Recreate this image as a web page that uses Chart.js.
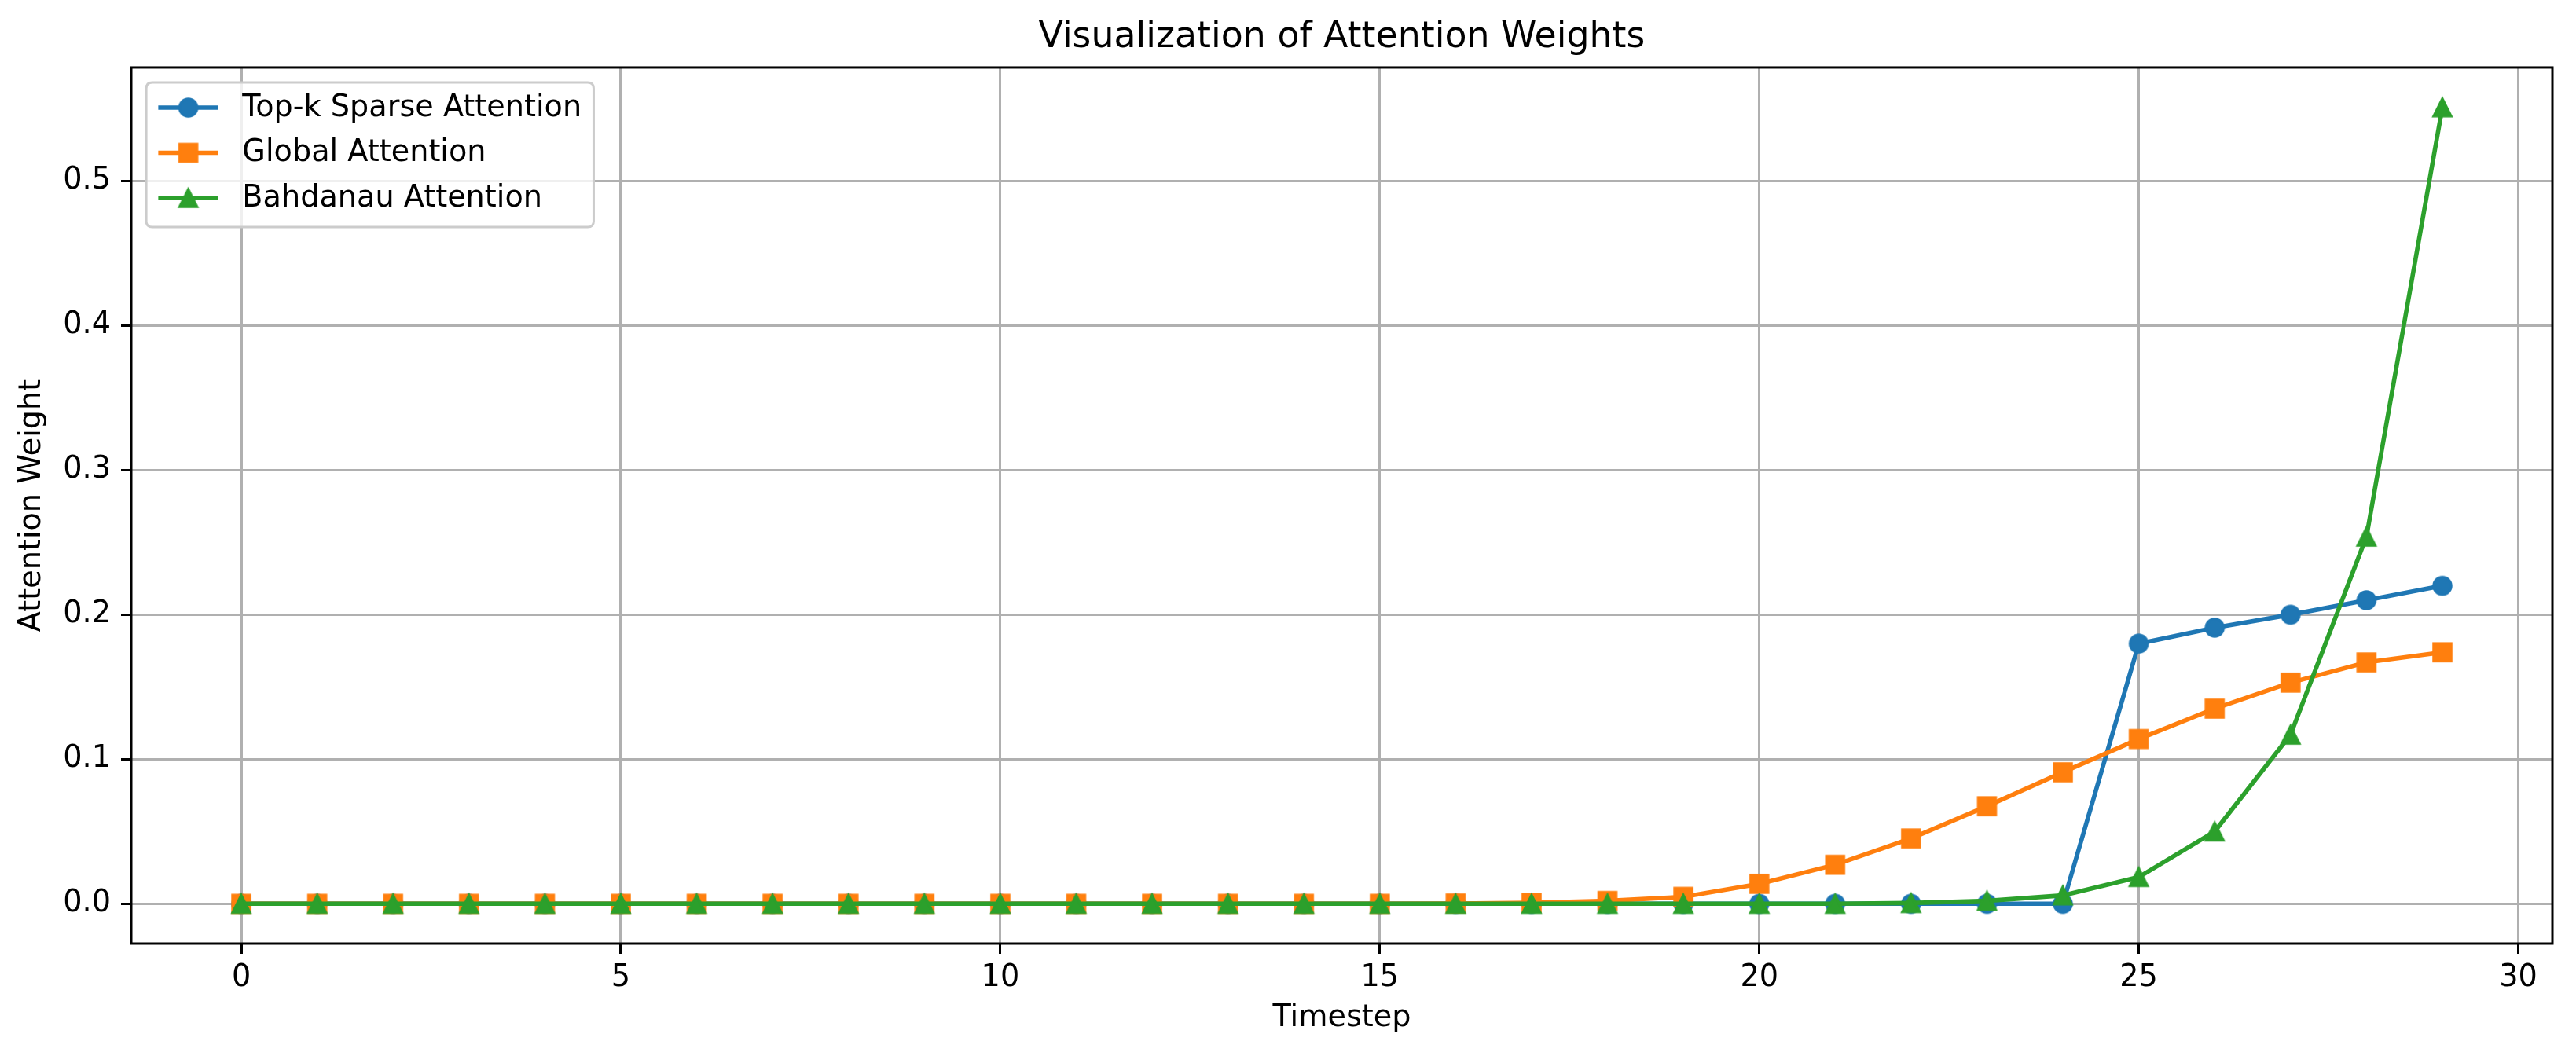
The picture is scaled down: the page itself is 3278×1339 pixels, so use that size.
<!DOCTYPE html>
<html>
<head>
<meta charset="utf-8">
<script src="https://cdn.jsdelivr.net/npm/chart.js@4.4.0/dist/chart.umd.min.js"></script>
<style>
html,body{margin:0;padding:0;background:#fff;}
#wrap{width:3278px;height:1339px;}
</style>
</head>
<body>
<div id="wrap"><canvas id="c" width="3278" height="1339"></canvas></div>
<script>
// ---- data ----
const timesteps = [0,1,2,3,4,5,6,7,8,9,10,11,12,13,14,15,16,17,18,19,20,21,22,23,24,25,26,27,28,29];
const topkSparse = [0,0,0,0,0,0,0,0,0,0,0,0,0,0,0,0,0,0,0,0,0,0,0,0,0,0.180,0.191,0.200,0.210,0.220];
const globalAttn = [0,0,0,0,0,0,0,0,0,0,0,0,0,0,0,0,0.0002,0.0007,0.002,0.0048,0.0138,0.027,0.0452,0.0675,0.091,0.114,0.135,0.153,0.167,0.174];
const bahdanau   = [0,0,0,0,0,0,0,0,0,0,0,0,0,0,0,0,0,0,0,0,0,0,0.0005,0.002,0.0058,0.0185,0.050,0.117,0.254,0.551];
const seriesNames = ['Top-k Sparse Attention','Global Attention','Bahdanau Attention'];
const xTickValues = [0,5,10,15,20,25,30];
const xTickLabels = ['0','5','10','15','20','25','30'];
const yTickValues = [0,0.1,0.2,0.3,0.4,0.5];
const yTickLabels = ['0.0','0.1','0.2','0.3','0.4','0.5'];
const titleText = 'Visualization of Attention Weights';
const xLabel = 'Timestep';
const yLabel = 'Attention Weight';

// ---- styling ----
const FONT = '"DejaVu Sans", sans-serif';
const EM = 38.2;
const TITLE_SIZE = 45.8;
const colors = ['#1f77b4','#ff7f0e','#2ca02c'];
const shapes = ['circle','square','triangle'];

function makeMarker(shape, color){
  const c = document.createElement('canvas');
  c.width = 34; c.height = 34;
  const g = c.getContext('2d');
  const cx = 17, cy = 17, h = 11.25;
  g.fillStyle = color; g.strokeStyle = color; g.lineWidth = 3; g.lineJoin = 'miter';
  g.beginPath();
  if (shape === 'circle') { g.arc(cx, cy, h, 0, Math.PI*2); }
  else if (shape === 'square') { g.rect(cx-h, cy-h, 2*h, 2*h); }
  else { g.moveTo(cx, cy-h); g.lineTo(cx-h, cy+h); g.lineTo(cx+h, cy+h); g.closePath(); }
  g.fill(); g.stroke();
  return c;
}
const markers = shapes.map((s,i)=>makeMarker(s, colors[i]));

// autoscale with 5% margins (matplotlib-like)
const allY = topkSparse.concat(globalAttn, bahdanau);
const yMinD = Math.min(...allY), yMaxD = Math.max(...allY);
const xMinD = Math.min(...timesteps), xMaxD = Math.max(...timesteps);
const yPad = (yMaxD - yMinD) * 0.05, xPad = (xMaxD - xMinD) * 0.05;

const seriesValues = [topkSparse, globalAttn, bahdanau];
const datasets = seriesValues.map((vals, i) => ({
  label: seriesNames[i],
  data: timesteps.map((t, j) => ({x: t, y: vals[j]})),
  borderColor: colors[i],
  backgroundColor: colors[i],
  borderWidth: 5.6,
  pointStyle: markers[i],
  pointRadius: 12,
  pointHoverRadius: 12,
  tension: 0,
  fill: false,
  order: 3 - i
}));

const framePlugin = {
  id: 'frame',
  afterDatasetsDraw(chart){
    const {ctx, chartArea: a} = chart;
    ctx.save();
    ctx.strokeStyle = '#000'; ctx.lineWidth = 3;
    ctx.strokeRect(a.left, a.top, a.right - a.left, a.bottom - a.top);
    ctx.restore();
  }
};

const legendPlugin = {
  id: 'mplLegend',
  afterDraw(chart){
    const {ctx, chartArea: a} = chart;
    const labels = chart.data.datasets.map(d => d.label);
    ctx.save();
    ctx.font = EM + 'px ' + FONT;
    const tw = Math.max(...labels.map(l => ctx.measureText(l).width));
    const pad = 0.4*EM, hl = 2*EM, htp = 0.8*EM, pitch = 57.5;
    const x0 = a.left + 0.5*EM, y0 = a.top + 0.5*EM;
    const w = pad + hl + htp + tw + pad, h = 184, r = 0.2*EM;
    ctx.beginPath();
    ctx.moveTo(x0 + r, y0);
    ctx.lineTo(x0 + w - r, y0); ctx.quadraticCurveTo(x0 + w, y0, x0 + w, y0 + r);
    ctx.lineTo(x0 + w, y0 + h - r); ctx.quadraticCurveTo(x0 + w, y0 + h, x0 + w - r, y0 + h);
    ctx.lineTo(x0 + r, y0 + h); ctx.quadraticCurveTo(x0, y0 + h, x0, y0 + h - r);
    ctx.lineTo(x0, y0 + r); ctx.quadraticCurveTo(x0, y0, x0 + r, y0);
    ctx.closePath();
    ctx.fillStyle = 'rgba(255,255,255,0.8)'; ctx.fill();
    ctx.strokeStyle = '#cccccc'; ctx.lineWidth = 3; ctx.stroke();
    chart.data.datasets.forEach((d, i) => {
      const cy = y0 + 32 + i*pitch;
      const lx = x0 + pad;
      ctx.strokeStyle = d.borderColor; ctx.lineWidth = 5.6; ctx.lineCap = 'butt';
      ctx.beginPath(); ctx.moveTo(lx, cy); ctx.lineTo(lx + hl, cy); ctx.stroke();
      const m = d.pointStyle;
      ctx.drawImage(m, lx + hl/2 - m.width/2, cy - m.height/2);
      ctx.fillStyle = '#000'; ctx.textBaseline = 'middle'; ctx.textAlign = 'left';
      ctx.fillText(d.label, lx + hl + htp, cy + 1);
    });
    ctx.restore();
  }
};

const tickFont = {family: FONT, size: EM, lineHeight: 1.2};
const gridOpts = {color: '#b0b0b0', lineWidth: 3, tickColor: '#000', tickWidth: 3, tickLength: 13, drawTicks: true};

new Chart(document.getElementById('c'), {
  type: 'line',
  data: {datasets},
  options: {
    responsive: false,
    devicePixelRatio: 1,
    animation: false,
    events: [],
    layout: {padding: {left: 0, right: 30, top: 0, bottom: 0}},
    plugins: {
      legend: {display: false},
      tooltip: {enabled: false},
      title: {
        display: true, text: titleText, color: '#000', fullSize: false,
        font: {family: FONT, size: TITLE_SIZE, weight: 'normal', lineHeight: 1.2},
        padding: {top: 21, bottom: 10}
      }
    },
    scales: {
      x: {
        type: 'linear',
        min: xMinD - xPad, max: xMaxD + xPad,
        afterBuildTicks: s => { s.ticks = xTickValues.map(v => ({value: v})); },
        afterFit: s => { s.height = 138; },
        ticks: {autoSkip: false, maxRotation: 0, color: '#000', font: tickFont, padding: 8,
                callback: (v, i) => xTickLabels[i]},
        grid: gridOpts,
        border: {display: false},
        title: {display: true, text: xLabel, color: '#000', font: {family: FONT, size: EM, lineHeight: 1.2},
                padding: {top: 0, bottom: 20}}
      },
      y: {
        type: 'linear',
        min: yMinD - yPad, max: yMaxD + yPad,
        afterBuildTicks: s => { s.ticks = yTickValues.map(v => ({value: v})); },
        afterFit: s => { s.width = 167; },
        ticks: {autoSkip: false, color: '#000', font: tickFont, padding: 13,
                callback: (v, i) => yTickLabels[i]},
        grid: gridOpts,
        border: {display: false},
        title: {display: true, text: yLabel, color: '#000', font: {family: FONT, size: EM, lineHeight: 1.2},
                padding: {top: 18, bottom: 0}}
      }
    }
  },
  plugins: [framePlugin, legendPlugin]
});
</script>
</body>
</html>
